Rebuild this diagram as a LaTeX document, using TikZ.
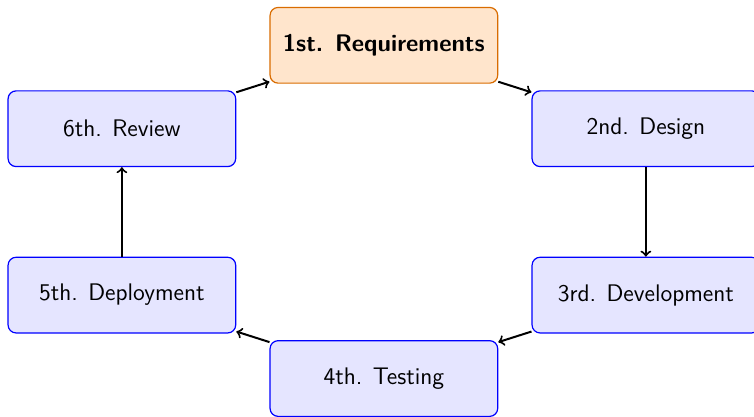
\documentclass[tikz,border=0pt]{standalone}
\usetikzlibrary{positioning}
\begin{document}
\begin{tikzpicture}[font=\sffamily\large,
        stage/.style={rectangle,rounded corners,draw=blue,fill=blue!10,
            semithick,minimum width=4cm,minimum height=1.33cm},
        start/.style={stage,draw=orange!85!black,fill=orange!20,
            font=\sffamily\large\bfseries},
        link/.style={->,line width=1pt}]
    \useasboundingbox (-6.746,-3.587) rectangle (6.504,3.724);
	\node[start] (req) at (0,2.928) {1st. Requirements};
	\node[stage] (design) at (4.604,1.462) {2nd. Design};
	\node[stage] (dev) at (4.604,-1.462) {3rd. Development};
	\node[stage] (test) at (0,-2.928) {4th. Testing};
	\node[stage] (deploy) at (-4.604,-1.462) {5th. Deployment};
	\node[stage] (review) at (-4.604,1.462) {6th. Review};
	\draw[link] (req) -- (design);
	\draw[link] (design) -- (dev);
	\draw[link] (dev) -- (test);
	\draw[link] (test) -- (deploy);
	\draw[link] (deploy) -- (review);
	\draw[link] (review) -- (req);
\end{tikzpicture}
\end{document}
